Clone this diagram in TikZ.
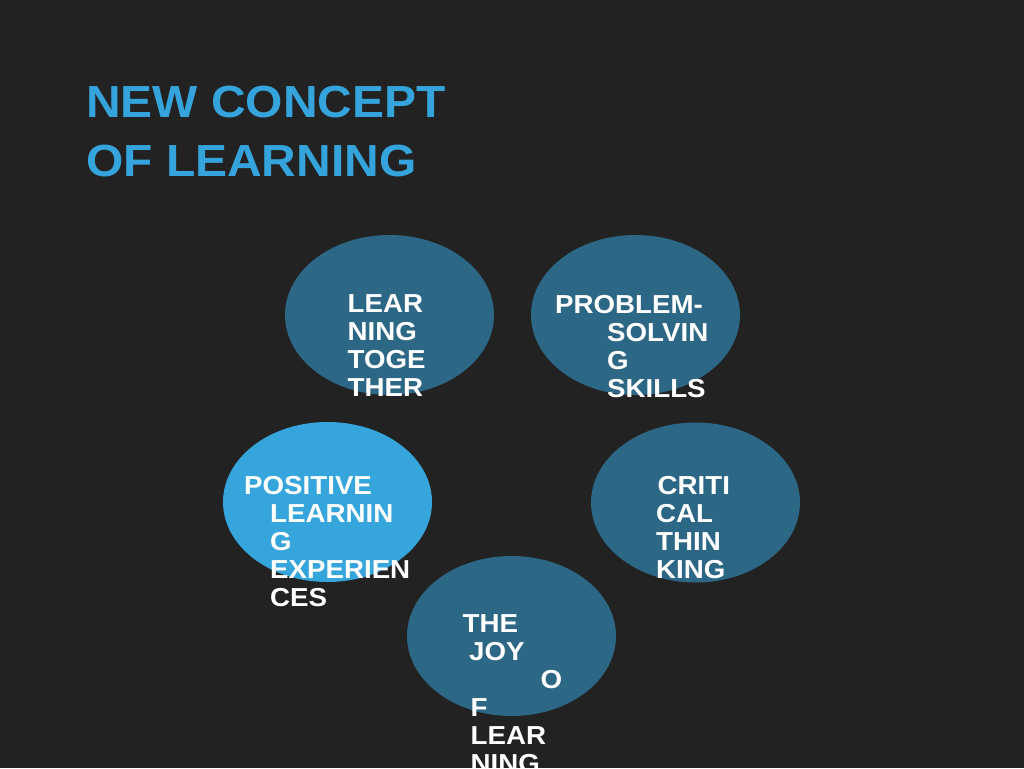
\documentclass[tikz,border=0pt]{standalone}
\usepackage{fontspec}
\setmainfont{Liberation Sans}[FakeStretch=1.065]
\usetikzlibrary{shapes.geometric}
\definecolor{bgc}{HTML}{222222}
\definecolor{titlec}{HTML}{35A4DC}
\definecolor{darkc}{HTML}{2D6786}
\definecolor{lightc}{HTML}{35A5DC}
\tikzset{
  blob/.style={ellipse, minimum width=209pt, minimum height=160pt, inner sep=0pt},
  lbl/.style={anchor=base west, inner sep=0pt, text=white, font=\fontsize{26}{28}\selectfont\bfseries},
  ttl/.style={anchor=base west, inner sep=0pt, text=titlec, font=\fontsize{45}{59}\selectfont\bfseries}
}
\begin{document}
\begin{tikzpicture}[x=1pt,y=-1pt]
\clip (0,0) rectangle (1024,768);
\fill[bgc] (0,0) rectangle (1024,768);
% title
\node[ttl] (t1) at (86,117) {NEW CONCEPT};
\node[ttl] (t2) at (86,176) {OF LEARNING};
% ellipses
\node[blob, fill=darkc] (e1) at (389.5,315) {};
\node[blob, fill=darkc] (e2) at (635.5,315) {};
\node[blob, fill=lightc] (e3) at (327.5,502) {};
\node[blob, fill=darkc] (e4) at (695.5,502.5) {};
\node[blob, fill=darkc] (e5) at (511.5,636) {};
% texts ellipse 1
\node[lbl] (a1) at (347.5,312) {LEAR};
\node[lbl] (a2) at (347.5,340) {NING};
\node[lbl] (a3) at (347.5,368) {TOGE};
\node[lbl] (a4) at (347.5,396) {THER};
% ellipse 2
\node[lbl] (b1) at (555,313) {PROBLEM-};
\node[lbl] (b2) at (607,341) {SOLVIN};
\node[lbl] (b3) at (607,369) {G};
\node[lbl] (b4) at (607,397) {SKILLS};
% ellipse 3
\node[lbl] (c1) at (244,494) {POSITIVE};
\node[lbl] (c2) at (270,522) {LEARNIN};
\node[lbl] (c3) at (270,550) {G};
\node[lbl] (c4) at (270,578) {EXPERIEN};
\node[lbl] (c5) at (270,606) {CES};
% ellipse 4
\node[lbl] (d1) at (657.5,494) {CRITI};
\node[lbl] (d2) at (656,522) {CAL};
\node[lbl] (d3) at (656,550) {THIN};
\node[lbl] (d4) at (656,578) {KING};
% ellipse 5
\node[lbl] (f1) at (462.5,632) {THE};
\node[lbl] (f2) at (469,660) {JOY};
\node[lbl] (f3) at (540.5,688) {O};
\node[lbl] (f4) at (470.5,716) {F};
\node[lbl] (f5) at (470.5,744) {LEAR};
\node[lbl] (f6) at (470.5,772) {NING};
\end{tikzpicture}
\end{document}
